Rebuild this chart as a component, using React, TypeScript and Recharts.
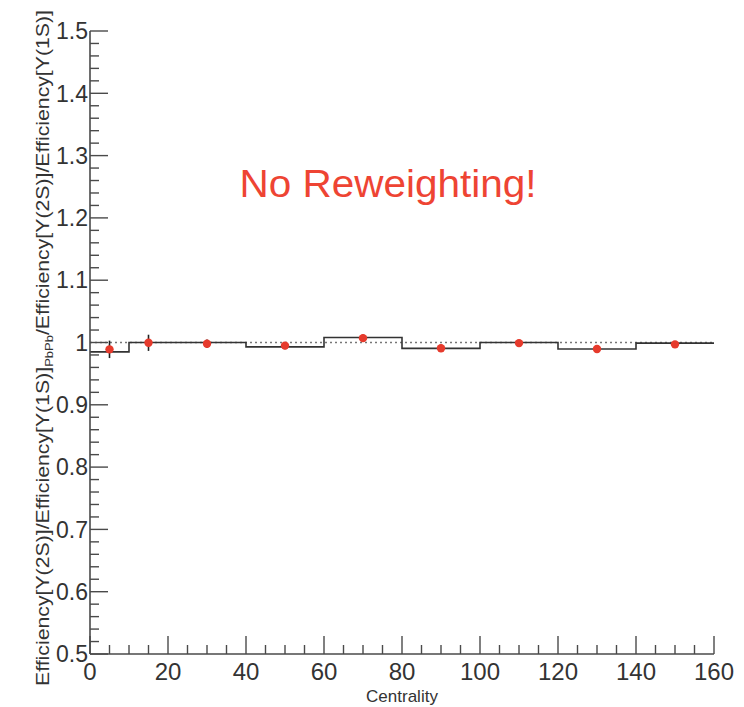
import {
  ComposedChart,
  Line,
  Scatter,
  ErrorBar,
  XAxis,
  YAxis,
  ReferenceLine,
  Customized,
} from "recharts";

// histogram (black step) – low bin edges, last entry closes the final bin
const histEdges = [0, 10, 20, 40, 60, 80, 100, 120, 140, 160];
const histValues = [0.985, 1.0, 1.0, 0.993, 1.008, 0.9905, 1.0, 0.9895, 0.999, 0.999];

// red markers at bin centres
const pointX = [5, 15, 30, 50, 70, 90, 110, 130, 150];
const pointY = [0.989, 0.9995, 0.998, 0.995, 1.007, 0.9907, 0.999, 0.9896, 0.997];
const pointErr = [0.014, 0.013, 0.007, 0.006, 0.006, 0.006, 0.005, 0.004, 0.003];

const xMajor = [0, 20, 40, 60, 80, 100, 120, 140, 160];
const yMajor = [0.5, 0.6, 0.7, 0.8, 0.9, 1, 1.1, 1.2, 1.3, 1.4, 1.5];
const xMinorStep = 5;
const yMinorStep = 0.02;

const histData = histEdges.map((x, i) => ({ x, y: histValues[i] }));
const pointData = pointX.map((x, i) => ({ x, y: pointY[i], err: pointErr[i] }));

const r2 = (v: number) => Math.round(v * 1000) / 1000;
const xTicks: number[] = [];
for (let v = 0; v <= 160 + 1e-9; v += xMinorStep) xTicks.push(r2(v));
const yTicks: number[] = [];
for (let i = 0; i <= 50; i++) yTicks.push(r2(0.5 + i * yMinorStep));

const isMajorX = (v: number) => xMajor.some((m) => Math.abs(m - v) < 1e-6);
const isMajorY = (v: number) => yMajor.some((m) => Math.abs(m - v) < 1e-6);

const FRAME = "#4a4a4a";
const LABEL = "#333";
const FONT = "'Liberation Sans', Arial, Helvetica, sans-serif";
const MAJOR = 18;
const MINOR = 9;

const BottomTick = (props: any) => {
  const { x, y, payload } = props;
  const major = isMajorX(payload.value);
  return (
    <g>
      <line x1={x} x2={x} y1={y} y2={y - (major ? MAJOR : MINOR)} stroke={FRAME} strokeWidth={1.4} />
      {major && (
        <text x={x} y={y + 26} textAnchor="middle" fontSize={24} fontFamily={FONT} fill={LABEL}>
          {payload.value}
        </text>
      )}
    </g>
  );
};

const TopTick = (props: any) => {
  const { x, y, payload } = props;
  const major = isMajorX(payload.value);
  return <line x1={x} x2={x} y1={y} y2={y + (major ? MAJOR : MINOR)} stroke={FRAME} strokeWidth={1.4} />;
};

const LeftTick = (props: any) => {
  const { x, y, payload } = props;
  const v = payload.value;
  const major = isMajorY(v);
  return (
    <g>
      <line x1={x} x2={x + (major ? MAJOR : MINOR)} y1={y} y2={y} stroke={FRAME} strokeWidth={1.4} />
      {major && (
        <text x={x - 2} y={y} dy="0.36em" textAnchor="end" fontSize={23} fontFamily={FONT} fill={LABEL}>
          {Math.abs(v - 1) < 1e-6 ? "1" : v.toFixed(1)}
        </text>
      )}
    </g>
  );
};

const RightTick = (props: any) => {
  const { x, y, payload } = props;
  const major = isMajorY(payload.value);
  return <line x1={x} x2={x - (major ? MAJOR : MINOR)} y1={y} y2={y} stroke={FRAME} strokeWidth={1.4} />;
};

const Texts = () => (
  <g fontFamily={FONT}>
    <text
      x={388}
      y={197}
      textAnchor="middle"
      fontSize={38}
      fill="#ee4433"
      textLength={297}
      lengthAdjust="spacingAndGlyphs"
    >
      No Reweighting!
    </text>
    <text
      x={43}
      y={348}
      transform="rotate(-90 43 348)"
      textAnchor="middle"
      dominantBaseline="central"
      fontSize={18}
      fill={LABEL}
      textLength={676}
      lengthAdjust="spacingAndGlyphs"
    >
      Efficiency[Υ(2S)]/Efficiency[Υ(1S)]
      <tspan fontSize={11} dy={6}>PbPb</tspan>
      <tspan dy={-6}>/Efficiency[Υ(2S)]/Efficiency[Υ(1S)]</tspan>
    </text>
    <text x={402} y={702} textAnchor="middle" fontSize={17} fill={LABEL}>
      Centrality
    </text>
  </g>
);

export default function App() {
  return (
    <div style={{ position: "absolute", left: 0, top: 0, width: 744, height: 707, background: "#fff" }}>
      <ComposedChart width={744} height={707} margin={{ top: 31, right: 30, bottom: 0, left: 0 }}>
        <XAxis
          xAxisId="b"
          dataKey="x"
          type="number"
          domain={[0, 160]}
          allowDataOverflow
          ticks={xTicks}
          interval={0}
          height={53}
          tickSize={0}
          tickMargin={0}
          tickLine={false}
          axisLine={{ stroke: FRAME, strokeWidth: 1.6 }}
          tick={BottomTick}
        />
        <XAxis
          xAxisId="t"
          orientation="top"
          dataKey="x"
          type="number"
          domain={[0, 160]}
          allowDataOverflow
          ticks={xTicks}
          interval={0}
          height={0}
          tickSize={0}
          tickMargin={0}
          tickLine={false}
          axisLine={{ stroke: FRAME, strokeWidth: 1.6 }}
          tick={TopTick}
        />
        <YAxis
          yAxisId="l"
          type="number"
          domain={[0.5, 1.5]}
          allowDataOverflow
          ticks={yTicks}
          interval={0}
          width={90}
          tickSize={0}
          tickMargin={0}
          tickLine={false}
          axisLine={{ stroke: FRAME, strokeWidth: 1.6 }}
          tick={LeftTick}
        />
        <YAxis
          yAxisId="r"
          orientation="right"
          type="number"
          domain={[0.5, 1.5]}
          allowDataOverflow
          ticks={yTicks}
          interval={0}
          width={0}
          tickSize={0}
          tickMargin={0}
          tickLine={false}
          axisLine={{ stroke: FRAME, strokeWidth: 1.6 }}
          tick={RightTick}
        />
        <ReferenceLine xAxisId="b" yAxisId="l" y={1} stroke="#777" strokeDasharray="2 3" strokeWidth={1.5} />
        <Line
          xAxisId="b"
          yAxisId="l"
          data={histData}
          dataKey="y"
          type="stepAfter"
          stroke="#333"
          strokeWidth={1.6}
          dot={false}
          isAnimationActive={false}
        />
        <Line
          xAxisId="t"
          yAxisId="r"
          data={histData}
          dataKey="y"
          stroke="none"
          dot={false}
          isAnimationActive={false}
        />
        <Scatter
          xAxisId="b"
          yAxisId="l"
          data={pointData}
          dataKey="y"
          fill="#e63a2c"
          shape={(p: any) => <circle cx={p.cx} cy={p.cy} r={4.2} fill="#e63a2c" />}
          isAnimationActive={false}
        >
          <ErrorBar dataKey="err" direction="y" width={0} stroke="#222" strokeWidth={1.6} />
        </Scatter>
        <Customized component={Texts} />
      </ComposedChart>
    </div>
  );
}
